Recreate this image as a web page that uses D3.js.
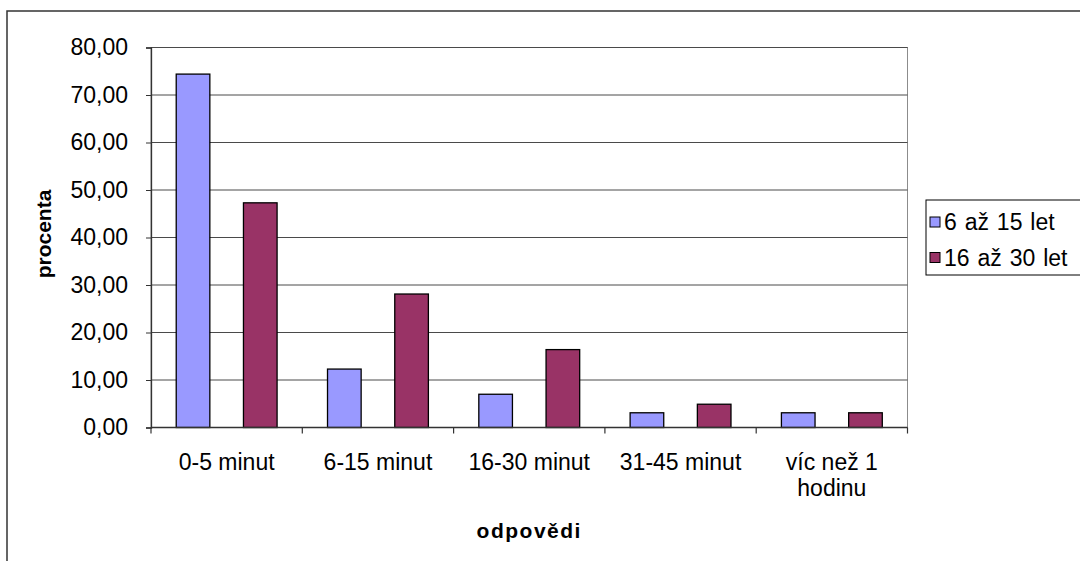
<!DOCTYPE html>
<html>
<head>
<meta charset="utf-8">
<script src="https://cdn.jsdelivr.net/npm/d3@7"></script>
<style>
  html, body { margin: 0; padding: 0; background: #fff; }
  svg { display: block; font-family: "Liberation Sans", Arial, sans-serif; }
</style>
</head>
<body>
<svg id="chart" width="1080" height="561"></svg>
<script>
// Doba strávená u počítače – odpovědi podle věkových skupin (v procentech)
const categories = ["0-5 minut", "6-15 minut", "16-30 minut", "31-45 minut", "víc než 1 hodinu"];
const seriesNames = ["6 až 15 let", "16 až 30 let"];
const values6to15 = [74.4, 12.3, 7.0, 3.1, 3.1];
const values16to30 = [47.3, 28.1, 16.4, 4.9, 3.1];
const yTicks = [0, 10, 20, 30, 40, 50, 60, 70, 80];
const seriesColors = ["#9999FF", "#993366"];

const series = [values6to15, values16to30];

const svg = d3.select("#chart");
const plot = { left: 151, right: 907.5, top: 47.5, bottom: 427.5 };

// Outer chart frame
svg.append("rect")
  .attr("x", 7).attr("y", 11)
  .attr("width", 1100).attr("height", 600)
  .attr("fill", "#fff")
  .attr("stroke", "#333").attr("stroke-width", 1.5);

const x0 = d3.scaleBand()
  .domain(categories)
  .range([plot.left, plot.right])
  .paddingInner(0).paddingOuter(0);

const x1 = d3.scaleBand()
  .domain(d3.range(seriesNames.length))
  .range([0, x0.bandwidth()])
  .paddingInner(0.5).paddingOuter(0.375);

const y = d3.scaleLinear().domain([0, 80]).range([plot.bottom, plot.top]);

// Plot area border
svg.append("rect")
  .attr("x", plot.left).attr("y", plot.top)
  .attr("width", plot.right - plot.left).attr("height", plot.bottom - plot.top)
  .attr("fill", "none").attr("stroke", "#8c8c8c").attr("stroke-width", 1);

// Horizontal gridlines
svg.append("g")
  .selectAll("line")
  .data(yTicks.filter(d => d > 0))
  .join("line")
  .attr("x1", plot.left).attr("x2", plot.right)
  .attr("y1", d => y(d)).attr("y2", d => y(d))
  .attr("stroke", "#4a4a4a").attr("stroke-width", 1);

// Bars
const groups = svg.append("g")
  .selectAll("g")
  .data(categories)
  .join("g")
  .attr("transform", d => `translate(${x0(d)},0)`);

groups.selectAll("rect")
  .data((d, i) => series.map((s, k) => ({ k, v: s[i] })))
  .join("rect")
  .attr("x", d => x1(d.k))
  .attr("width", x1.bandwidth())
  .attr("y", d => y(d.v))
  .attr("height", d => y(0) - y(d.v))
  .attr("fill", d => seriesColors[d.k])
  .attr("stroke", "#000").attr("stroke-width", 1.3);

// Y axis
const yAxis = svg.append("g")
  .attr("transform", `translate(${plot.left},0)`)
  .call(d3.axisLeft(y).tickValues(yTicks).tickSize(5).tickPadding(18)
    .tickFormat(d => d3.format(".2f")(d).replace(".", ",")));
yAxis.select(".domain").attr("stroke", "#333").attr("stroke-width", 1.3);
yAxis.selectAll(".tick line").attr("stroke", "#333");
yAxis.selectAll("text")
  .attr("font-size", 23).attr("fill", "#000")
  .attr("font-family", "'Liberation Sans', Arial, sans-serif");

// X axis with category ticks at band edges
const xAxis = svg.append("g")
  .attr("transform", `translate(0,${plot.bottom})`);
xAxis.append("line")
  .attr("x1", plot.left).attr("x2", plot.right)
  .attr("stroke", "#333").attr("stroke-width", 1.3);
xAxis.selectAll("line.tk")
  .data(categories.map(c => x0(c)).concat([plot.right]))
  .join("line").attr("class", "tk")
  .attr("x1", d => d).attr("x2", d => d)
  .attr("y1", 0).attr("y2", 6)
  .attr("stroke", "#333").attr("stroke-width", 1.2);

// Category labels (long ones wrap onto two lines)
const labelLines = {
  "víc než 1 hodinu": ["víc než 1", "hodinu"]
};
const catLabels = svg.append("g")
  .selectAll("text")
  .data(categories)
  .join("text")
  .attr("x", d => x0(d) + x0.bandwidth() / 2)
  .attr("y", 470)
  .attr("text-anchor", "middle")
  .attr("font-size", 23)
  .attr("fill", "#000");
catLabels.each(function(d) {
  const lines = labelLines[d] || [d];
  d3.select(this).selectAll("tspan")
    .data(lines)
    .join("tspan")
    .attr("x", x0(d) + x0.bandwidth() / 2)
    .attr("dy", (l, i) => i === 0 ? 0 : 25.5)
    .text(l => l);
});

// Axis titles
svg.append("text")
  .attr("x", (plot.left + plot.right) / 2)
  .attr("y", 538)
  .attr("text-anchor", "middle")
  .attr("font-size", 21).attr("font-weight", "bold")
  .attr("letter-spacing", 1.5)
  .text("odpovědi");

svg.append("text")
  .attr("transform", `translate(51,234) rotate(-90)`)
  .attr("text-anchor", "middle")
  .attr("font-size", 21).attr("font-weight", "bold")
  .text("procenta");

// Legend
const legend = svg.append("g");
legend.append("rect")
  .attr("x", 926).attr("y", 200)
  .attr("width", 200).attr("height", 75)
  .attr("fill", "#fff").attr("stroke", "#000").attr("stroke-width", 1);
const items = legend.selectAll("g.item")
  .data(seriesNames)
  .join("g").attr("class", "item")
  .attr("transform", (d, i) => `translate(930,${222 + i * 35.5})`);
items.append("rect")
  .attr("x", 0).attr("y", -5)
  .attr("width", 10).attr("height", 10)
  .attr("fill", (d, i) => seriesColors[i])
  .attr("stroke", "#000").attr("stroke-width", 1);
items.append("text")
  .attr("x", 14).attr("y", 8)
  .attr("font-size", 23)
  .attr("word-spacing", 1.5)
  .text(d => d);
</script>
</body>
</html>
